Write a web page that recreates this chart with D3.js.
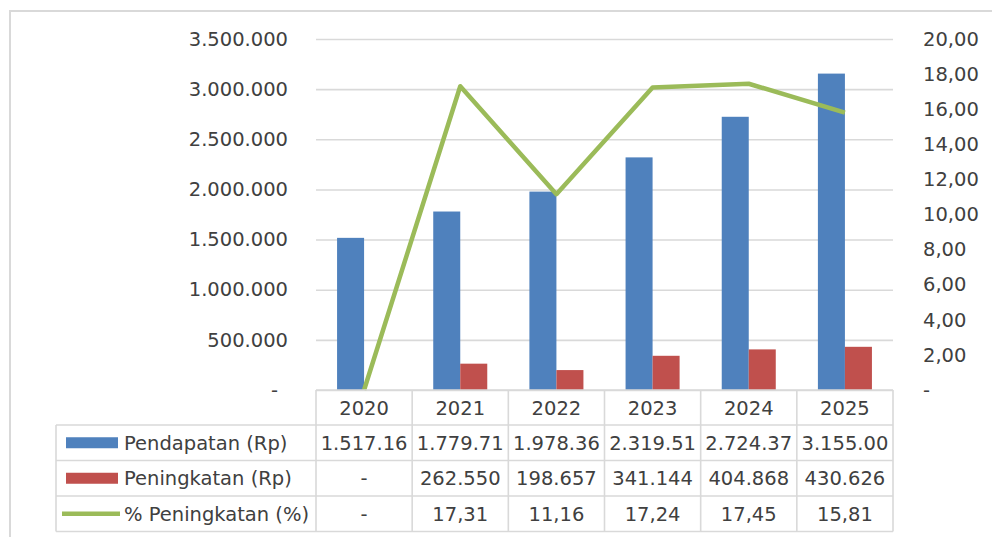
<!DOCTYPE html>
<html>
<head>
<meta charset="utf-8">
<script src="https://cdn.jsdelivr.net/npm/d3@7"></script>
<style>
  body { margin: 0; background: #fff; }
  text { font-family: "DejaVu Sans", sans-serif; font-size: 19.5px; fill: #404040; }
</style>
</head>
<body>
<div id="chart"></div>
<script>
var years = ["2020", "2021", "2022", "2023", "2024", "2025"];
var pendapatan = [1517160, 1779710, 1978367, 2319511, 2724379, 3155005];
var peningkatan = [0, 262550, 198657, 341144, 404868, 430626];
var persen = [0, 17.31, 11.16, 17.24, 17.45, 15.81];
var leftTicks = [0, 500000, 1000000, 1500000, 2000000, 2500000, 3000000, 3500000];
var rightTicks = [0, 2, 4, 6, 8, 10, 12, 14, 16, 18, 20];
var seriesNames = ["Pendapatan (Rp)", "Peningkatan (Rp)", "% Peningkatan (%)"];

var colors = { blue: "#4f81bd", red: "#c0504d", green: "#9bbb59", grid: "#d9d9d9" };

var svgW = 992, svgH = 537;

// plot area
var plot = { left: 316, right: 893, top: 39, bottom: 390 };
var plotW = plot.right - plot.left;

// data table rows under the axis
var headH = 35, rowH = 35.5, legendLeft = 56;

var loc = d3.formatLocale({ decimal: ",", thousands: ".", grouping: [3], currency: ["Rp", ""] });
var fmtInt = loc.format(",.0f");
var fmtDec = loc.format(",.2f");

var svg = d3.select("#chart")
    .append("svg")
    .attr("width", svgW)
    .attr("height", svgH);

// outer chart frame (only top/left fall inside the picture)
svg.append("rect")
    .attr("x", 10)
    .attr("y", 11)
    .attr("width", 1200)
    .attr("height", 800)
    .attr("fill", "none")
    .attr("stroke", colors.grid)
    .attr("stroke-width", 2);

var x0 = d3.scaleBand()
    .domain(years)
    .range([plot.left, plot.right])
    .paddingInner(0);

var x1 = d3.scaleBand()
    .domain(["pend", "pen"])
    .range([0, x0.bandwidth()])
    .paddingInner(0)
    .paddingOuter(0.78);

var yL = d3.scaleLinear()
    .domain([0, 3500000])
    .range([plot.bottom, plot.top]);

var yR = d3.scaleLinear()
    .domain([0, 20])
    .range([plot.bottom, plot.top]);

// gridlines
var grid = svg.append("g")
    .attr("transform", "translate(" + plot.left + ",0)")
    .call(d3.axisLeft(yL).tickValues(leftTicks).tickSize(-plotW).tickFormat(""));
grid.select(".domain").remove();
grid.selectAll("line").attr("stroke", colors.grid).attr("stroke-width", 1.6);

// left axis labels
var yAxisL = svg.append("g")
    .attr("transform", "translate(" + plot.left + ",0)")
    .call(d3.axisLeft(yL).tickValues(leftTicks).tickSize(0).tickPadding(28)
        .tickFormat(function(d) { return d === 0 ? "-" : fmtInt(d); }));
yAxisL.select(".domain").remove();
yAxisL.selectAll("text")
    .attr("font-family", null).attr("font-size", null).attr("fill", null)
    .attr("dx", function(d) { return d === 0 ? -10 : 0; });

// right axis labels
var yAxisR = svg.append("g")
    .attr("transform", "translate(" + plot.right + ",0)")
    .call(d3.axisRight(yR).tickValues(rightTicks).tickSize(0).tickPadding(30)
        .tickFormat(function(d) { return d === 0 ? "-" : fmtDec(d); }));
yAxisR.select(".domain").remove();
yAxisR.selectAll("text").attr("font-family", null).attr("font-size", null).attr("fill", null);

// bars
var groups = svg.append("g")
    .selectAll(".year")
    .data(years)
    .enter()
    .append("g")
    .attr("class", "year")
    .attr("transform", function(d) { return "translate(" + x0(d) + ",0)"; });

groups.append("rect")
    .attr("x", x1("pend"))
    .attr("width", x1.bandwidth())
    .attr("y", function(d, i) { return yL(pendapatan[i]); })
    .attr("height", function(d, i) { return yL(0) - yL(pendapatan[i]); })
    .attr("fill", colors.blue);

groups.append("rect")
    .attr("x", x1("pen"))
    .attr("width", x1.bandwidth())
    .attr("y", function(d, i) { return yL(peningkatan[i]); })
    .attr("height", function(d, i) { return yL(0) - yL(peningkatan[i]); })
    .attr("fill", colors.red);

// % line on the right axis
var line = d3.line()
    .x(function(d, i) { return x0(years[i]) + x0.bandwidth() / 2; })
    .y(function(d) { return yR(d); });

svg.append("path")
    .datum(persen)
    .attr("d", line)
    .attr("fill", "none")
    .attr("stroke", colors.green)
    .attr("stroke-width", 4.5)
    .attr("stroke-linejoin", "round");

// ---- data table ----
var table = svg.append("g");
var rowTop = plot.bottom + headH;
var tableBottom = rowTop + rowH * 3;
var lineStyle = function(sel) {
    sel.attr("stroke", colors.grid).attr("stroke-width", 1.6);
};

// horizontal lines
table.append("line")
    .attr("x1", plot.left).attr("x2", plot.right)
    .attr("y1", plot.bottom).attr("y2", plot.bottom)
    .call(lineStyle);
table.selectAll(".hline")
    .data(d3.range(4))
    .enter()
    .append("line")
    .attr("x1", legendLeft).attr("x2", plot.right)
    .attr("y1", function(d) { return rowTop + d * rowH; })
    .attr("y2", function(d) { return rowTop + d * rowH; })
    .call(lineStyle);

// vertical lines
table.selectAll(".vline")
    .data(years.concat(["end"]))
    .enter()
    .append("line")
    .attr("x1", function(d) { return d === "end" ? plot.right : x0(d); })
    .attr("x2", function(d) { return d === "end" ? plot.right : x0(d); })
    .attr("y1", plot.bottom).attr("y2", tableBottom)
    .call(lineStyle);
table.append("line")
    .attr("x1", legendLeft).attr("x2", legendLeft)
    .attr("y1", rowTop).attr("y2", tableBottom)
    .call(lineStyle);

// header years
table.selectAll(".yr")
    .data(years)
    .enter()
    .append("text")
    .attr("x", function(d) { return x0(d) + x0.bandwidth() / 2; })
    .attr("y", plot.bottom + headH / 2)
    .attr("dy", "0.36em")
    .attr("text-anchor", "middle")
    .text(function(d) { return d; });

// legend cells
var legendRows = table.selectAll(".leg")
    .data(seriesNames)
    .enter()
    .append("g")
    .attr("transform", function(d, i) { return "translate(0," + (rowTop + i * rowH + rowH / 2) + ")"; });

legendRows.filter(function(d, i) { return i < 2; })
    .append("rect")
    .attr("x", 66)
    .attr("y", -5.5)
    .attr("width", 52)
    .attr("height", 11)
    .attr("fill", function(d, i) { return i === 0 ? colors.blue : colors.red; });

legendRows.filter(function(d, i) { return i === 2; })
    .append("line")
    .attr("x1", 62).attr("x2", 120)
    .attr("y1", 0).attr("y2", 0)
    .attr("stroke", colors.green)
    .attr("stroke-width", 4.5);

legendRows.append("text")
    .attr("x", 124)
    .attr("dy", "0.36em")
    .text(function(d) { return d; });

// value cells
var rowsData = [
    pendapatan.map(function(v) { return v === 0 ? "-" : fmtInt(v); }),
    peningkatan.map(function(v) { return v === 0 ? "-" : fmtInt(v); }),
    persen.map(function(v) { return v === 0 ? "-" : fmtDec(v); })
];

rowsData.forEach(function(row, r) {
    table.selectAll(".cell" + r)
        .data(row)
        .enter()
        .append("text")
        .attr("x", function(d, i) { return x0(years[i]) + x0.bandwidth() / 2; })
        .attr("y", rowTop + r * rowH + rowH / 2)
        .attr("dy", "0.36em")
        .attr("text-anchor", "middle")
        .text(function(d) { return d; })
        .each(function() {
            // cut off characters that do not fit, like the spreadsheet does
            var t = d3.select(this), s = t.text();
            while (this.getComputedTextLength() > x0.bandwidth() - 4 && s.length > 1) {
                s = s.slice(0, -1);
                t.text(s);
            }
        });
});
</script>
</body>
</html>
